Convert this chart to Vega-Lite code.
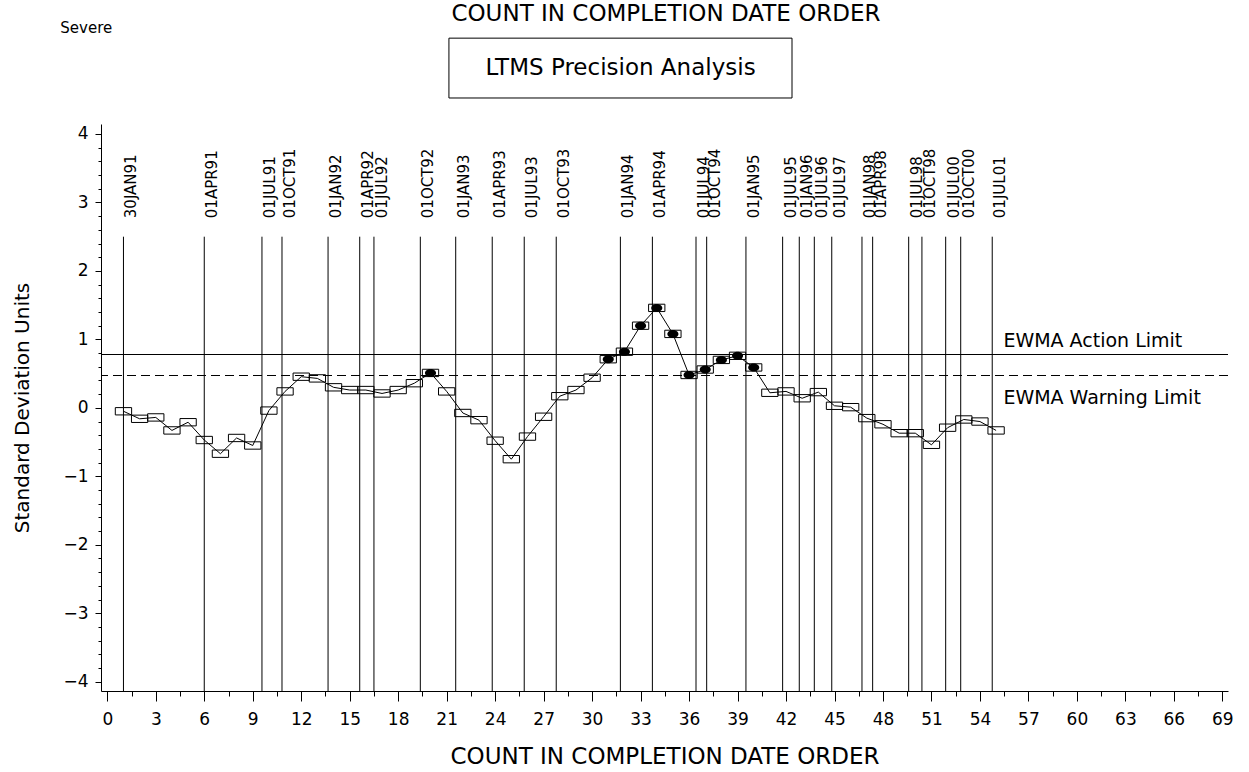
{
  "$schema": "https://vega.github.io/schema/vega-lite/v6.json",
  "width": 1127,
  "height": 567,
  "autosize": {"type": "none"},
  "padding": {"left": 101, "top": 124, "right": 21, "bottom": 81},
  "background": "white",
  "config": {
    "font": "DejaVu Sans",
    "view": {"stroke": null},
    "axis": {
      "domainColor": "black",
      "tickColor": "black",
      "labelColor": "black",
      "titleColor": "black",
      "titleFontWeight": "normal",
      "grid": false,
      "labelFont": "DejaVu Sans",
      "titleFont": "DejaVu Sans"
    }
  },
  "resolve": {"axis": {"x": "independent", "y": "independent"}},
  "datasets": {
    "points": [
      {"n": 1, "sdu": -0.05}, {"n": 2, "sdu": -0.16}, {"n": 3, "sdu": -0.14}, {"n": 4, "sdu": -0.33},
      {"n": 5, "sdu": -0.21}, {"n": 6, "sdu": -0.47}, {"n": 7, "sdu": -0.67}, {"n": 8, "sdu": -0.44},
      {"n": 9, "sdu": -0.55}, {"n": 10, "sdu": -0.04}, {"n": 11, "sdu": 0.24}, {"n": 12, "sdu": 0.455},
      {"n": 13, "sdu": 0.43}, {"n": 14, "sdu": 0.3}, {"n": 15, "sdu": 0.26}, {"n": 16, "sdu": 0.26},
      {"n": 17, "sdu": 0.21}, {"n": 18, "sdu": 0.26}, {"n": 19, "sdu": 0.36}, {"n": 20, "sdu": 0.51},
      {"n": 21, "sdu": 0.24}, {"n": 22, "sdu": -0.075}, {"n": 23, "sdu": -0.18}, {"n": 24, "sdu": -0.48},
      {"n": 25, "sdu": -0.75}, {"n": 26, "sdu": -0.42}, {"n": 27, "sdu": -0.13}, {"n": 28, "sdu": 0.17},
      {"n": 29, "sdu": 0.26}, {"n": 30, "sdu": 0.44}, {"n": 31, "sdu": 0.71}, {"n": 32, "sdu": 0.82},
      {"n": 33, "sdu": 1.2}, {"n": 34, "sdu": 1.46}, {"n": 35, "sdu": 1.08}, {"n": 36, "sdu": 0.48},
      {"n": 37, "sdu": 0.56}, {"n": 38, "sdu": 0.7}, {"n": 39, "sdu": 0.76}, {"n": 40, "sdu": 0.59},
      {"n": 41, "sdu": 0.22}, {"n": 42, "sdu": 0.24}, {"n": 43, "sdu": 0.14}, {"n": 44, "sdu": 0.23},
      {"n": 45, "sdu": 0.03}, {"n": 46, "sdu": 0.01}, {"n": 47, "sdu": -0.15}, {"n": 48, "sdu": -0.24},
      {"n": 49, "sdu": -0.37}, {"n": 50, "sdu": -0.37}, {"n": 51, "sdu": -0.54}, {"n": 52, "sdu": -0.29},
      {"n": 53, "sdu": -0.17}, {"n": 54, "sdu": -0.2}, {"n": 55, "sdu": -0.33}
    ],
    "dates": [
      {"pos": 1.0, "date": "30JAN91"}, {"pos": 6.0, "date": "01APR91"}, {"pos": 9.57, "date": "01JUL91"},
      {"pos": 10.81, "date": "01OCT91"}, {"pos": 13.66, "date": "01JAN92"}, {"pos": 15.62, "date": "01APR92"},
      {"pos": 16.5, "date": "01JUL92"}, {"pos": 19.37, "date": "01OCT92"}, {"pos": 21.56, "date": "01JAN93"},
      {"pos": 23.82, "date": "01APR93"}, {"pos": 25.8, "date": "01JUL93"}, {"pos": 27.78, "date": "01OCT93"},
      {"pos": 31.75, "date": "01JAN94"}, {"pos": 33.73, "date": "01APR94"}, {"pos": 36.43, "date": "01JUL94"},
      {"pos": 37.09, "date": "01OCT94"}, {"pos": 39.52, "date": "01JAN95"}, {"pos": 41.79, "date": "01JUL95"},
      {"pos": 42.82, "date": "01JAN96"}, {"pos": 43.75, "date": "01JUL96"}, {"pos": 44.83, "date": "01JUL97"},
      {"pos": 46.7, "date": "01JAN98"}, {"pos": 47.36, "date": "01APR98"}, {"pos": 49.59, "date": "01JUL98"},
      {"pos": 50.41, "date": "01OCT98"}, {"pos": 51.88, "date": "01JUL00"}, {"pos": 52.81, "date": "01OCT00"},
      {"pos": 54.76, "date": "01JUL01"}
    ],
    "one": [{}]
  },
  "layer": [
    {
      "data": {"name": "points"},
      "mark": {"type": "line", "color": "black", "strokeWidth": 1},
      "encoding": {
        "x": {
          "field": "n", "type": "quantitative",
          "scale": {"domain": [-0.39, 69.35], "nice": false, "zero": false},
          "axis": {
            "orient": "bottom",
            "title": "COUNT IN COMPLETION DATE ORDER",
            "titleFontSize": 23,
            "titleY": 65,
            "titleBaseline": "middle",
            "values": [0,3,6,9,12,15,18,21,24,27,30,33,36,39,42,45,48,51,54,57,60,63,66,69],
            "format": "d",
            "tickSize": 10,
            "labelFontSize": 17,
            "labelPadding": 10,
            "labelFlush": false,
            "labelOverlap": false
          }
        },
        "y": {
          "field": "sdu", "type": "quantitative",
          "scale": {"domain": [-4.136, 4.146], "nice": false, "zero": false},
          "axis": {
            "orient": "left",
            "title": "Standard Deviation Units",
            "titleFontSize": 20,
            "titleX": -79,
            "titleY": 283.5,
            "titleBaseline": "middle",
            "titleAngle": 270,
            "values": [-4,-3,-2,-1,0,1,2,3,4],
            "format": "d",
            "tickSize": 6,
            "labelFontSize": 17,
            "labelPadding": 7,
            "labelFlush": false,
            "labelOverlap": false
          }
        }
      }
    },
    {
      "data": {"name": "dates"},
      "mark": {"type": "rule", "color": "black", "strokeWidth": 1},
      "encoding": {
        "x": {"field": "pos", "type": "quantitative", "scale": {"domain": [-0.39, 69.35], "nice": false, "zero": false}, "axis": null},
        "y": {"datum": 2.5, "type": "quantitative", "scale": {"domain": [-4.136, 4.146], "nice": false, "zero": false}, "axis": null},
        "y2": {"datum": -4.136}
      }
    },
    {
      "data": {"name": "dates"},
      "mark": {"type": "text", "angle": 270, "align": "left", "baseline": "middle", "dy": 8, "fontSize": 15, "color": "black"},
      "encoding": {
        "x": {"field": "pos", "type": "quantitative", "scale": {"domain": [-0.39, 69.35], "nice": false, "zero": false}, "axis": null},
        "y": {"datum": 2.77, "type": "quantitative", "scale": {"domain": [-4.136, 4.146], "nice": false, "zero": false}, "axis": null},
        "text": {"field": "date"}
      }
    },
    {
      "data": {"name": "one"},
      "mark": {"type": "rule", "color": "black", "strokeWidth": 1},
      "encoding": {
        "y": {"datum": 0.779, "type": "quantitative", "scale": {"domain": [-4.136, 4.146], "nice": false, "zero": false}, "axis": null}
      }
    },
    {
      "data": {"name": "one"},
      "mark": {"type": "rule", "color": "black", "strokeWidth": 1, "strokeDash": [9, 5]},
      "encoding": {
        "y": {"datum": 0.4723, "type": "quantitative", "scale": {"domain": [-4.136, 4.146], "nice": false, "zero": false}, "axis": null}
      }
    },
    {
      "data": {"name": "points"},
      "mark": {"type": "point", "shape": "M-1,-0.45L1,-0.45L1,0.45L-1,0.45Z", "size": 266, "filled": false, "stroke": "black", "strokeWidth": 1, "opacity": 1},
      "encoding": {
        "x": {
          "field": "n", "type": "quantitative",
          "scale": {"domain": [-0.39, 69.35], "nice": false, "zero": false},
          "axis": {
            "orient": "bottom",
            "title": null,
            "domain": false,
            "labels": false,
            "tickSize": 5,
            "values": [1.5,4.5,7.5,10.5,13.5,16.5,19.5,22.5,25.5,28.5,31.5,34.5,37.5,40.5,43.5,46.5,49.5,52.5,55.5,58.5,61.5,64.5,67.5]
          }
        },
        "y": {
          "field": "sdu", "type": "quantitative",
          "scale": {"domain": [-4.136, 4.146], "nice": false, "zero": false},
          "axis": {
            "orient": "left",
            "title": null,
            "domain": false,
            "labels": false,
            "tickSize": 3,
            "values": [-3.8,-3.6,-3.4,-3.2,-2.8,-2.6,-2.4,-2.2,-1.8,-1.6,-1.4,-1.2,-0.8,-0.6,-0.4,-0.2,0.2,0.4,0.6,0.8,1.2,1.4,1.6,1.8,2.2,2.4,2.6,2.8,3.2,3.4,3.6,3.8]
          }
        }
      }
    },
    {
      "data": {"name": "points"},
      "transform": [{"filter": "datum.sdu > 0.4723"}],
      "mark": {"type": "point", "shape": "M-0.68,0A0.68,0.49 0 1,0 0.68,0A0.68,0.49 0 1,0 -0.68,0Z", "size": 266, "filled": true, "fill": "black", "strokeWidth": 0, "opacity": 1},
      "encoding": {
        "x": {"field": "n", "type": "quantitative", "scale": {"domain": [-0.39, 69.35], "nice": false, "zero": false}, "axis": null},
        "y": {"field": "sdu", "type": "quantitative", "scale": {"domain": [-4.136, 4.146], "nice": false, "zero": false}, "axis": null}
      }
    },
    {
      "data": {"name": "one"},
      "mark": {"type": "text", "text": "EWMA Action Limit", "align": "left", "baseline": "middle", "fontSize": 19, "color": "black"},
      "encoding": {
        "x": {"datum": 55.45, "type": "quantitative", "scale": {"domain": [-0.39, 69.35], "nice": false, "zero": false}, "axis": null},
        "y": {"datum": 0.98, "type": "quantitative", "scale": {"domain": [-4.136, 4.146], "nice": false, "zero": false}, "axis": null}
      }
    },
    {
      "data": {"name": "one"},
      "mark": {"type": "text", "text": "EWMA Warning Limit", "align": "left", "baseline": "middle", "fontSize": 19, "color": "black"},
      "encoding": {
        "x": {"datum": 55.45, "type": "quantitative", "scale": {"domain": [-0.39, 69.35], "nice": false, "zero": false}, "axis": null},
        "y": {"datum": 0.14, "type": "quantitative", "scale": {"domain": [-4.136, 4.146], "nice": false, "zero": false}, "axis": null}
      }
    },
    {
      "data": {"name": "one"},
      "mark": {"type": "text", "text": "Severe", "align": "left", "baseline": "middle", "fontSize": 15, "color": "black"},
      "encoding": {
        "x": {"datum": -2.91, "type": "quantitative", "scale": {"domain": [-0.39, 69.35], "nice": false, "zero": false}, "axis": null},
        "y": {"datum": 5.55, "type": "quantitative", "scale": {"domain": [-4.136, 4.146], "nice": false, "zero": false}, "axis": null}
      }
    },
    {
      "data": {"name": "one"},
      "mark": {"type": "text", "text": "COUNT IN COMPLETION DATE ORDER", "align": "center", "baseline": "middle", "fontSize": 23, "color": "black"},
      "encoding": {
        "x": {"datum": 34.57, "type": "quantitative", "scale": {"domain": [-0.39, 69.35], "nice": false, "zero": false}, "axis": null},
        "y": {"datum": 5.75, "type": "quantitative", "scale": {"domain": [-4.136, 4.146], "nice": false, "zero": false}, "axis": null}
      }
    },
    {
      "data": {"name": "one"},
      "mark": {"type": "rect", "fill": null, "fillOpacity": 0, "stroke": "black", "strokeWidth": 1},
      "encoding": {
        "x": {"datum": 21.14, "type": "quantitative", "scale": {"domain": [-0.39, 69.35], "nice": false, "zero": false}, "axis": null},
        "x2": {"datum": 42.37},
        "y": {"datum": 5.40, "type": "quantitative", "scale": {"domain": [-4.136, 4.146], "nice": false, "zero": false}, "axis": null},
        "y2": {"datum": 4.526}
      }
    },
    {
      "data": {"name": "one"},
      "mark": {"type": "text", "text": "LTMS Precision Analysis", "align": "center", "baseline": "middle", "fontSize": 23, "color": "black"},
      "encoding": {
        "x": {"datum": 31.76, "type": "quantitative", "scale": {"domain": [-0.39, 69.35], "nice": false, "zero": false}, "axis": null},
        "y": {"datum": 4.96, "type": "quantitative", "scale": {"domain": [-4.136, 4.146], "nice": false, "zero": false}, "axis": null}
      }
    }
  ]
}
